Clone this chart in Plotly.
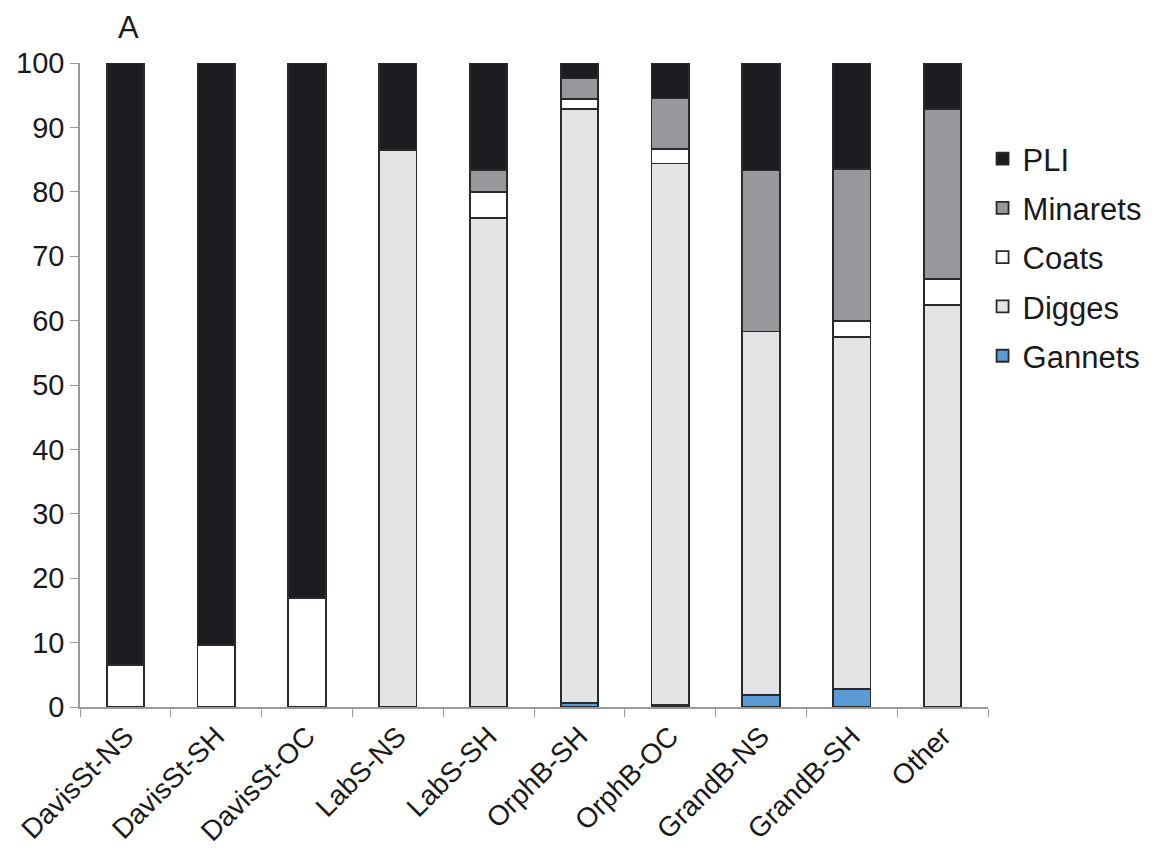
import plotly.graph_objects as go

categories = ["DavisSt-NS", "DavisSt-SH", "DavisSt-OC", "LabS-NS", "LabS-SH",
              "OrphB-SH", "OrphB-OC", "GrandB-NS", "GrandB-SH", "Other"]
gannets = [None, None, None, None, None, 0.6, 0.3, 1.9, 2.8, None]
digges = [None, None, None, 86.5, 75.9, 92.2, 84.1, 56.4, 54.6, 62.4]
coats = [6.5, 9.6, 16.9, None, 4.1, 1.6, 2.2, None, 2.5, 4.0]
minarets = [None, None, None, None, 3.4, 3.2, 7.9, 25.0, 23.7, 26.5]
pli = [93.5, 90.4, 83.1, 13.5, 16.6, 2.4, 5.5, 16.7, 16.4, 7.1]

series = [
    ("Gannets", gannets, "#5b9bd5"),
    ("Digges", digges, "#e3e4e6"),
    ("Coats", coats, "#ffffff"),
    ("Minarets", minarets, "#98979b"),
    ("PLI", pli, "#1c1d20"),
]

fig = go.Figure()
n = len(series)
for i, (name, vals, color) in enumerate(series):
    fig.add_trace(go.Bar(
        x=categories, y=vals, name=name, width=0.41, legendgroup=name,
        legendrank=(n - i) * 10,
        marker=dict(color=color, line=dict(color="#2a2a2a", width=1.8)),
    ))

font_family = "Liberation Sans, Arial, sans-serif"
fig.update_layout(
    width=1155, height=844,
    barmode="stack",
    plot_bgcolor="white", paper_bgcolor="white",
    margin=dict(l=72, r=175, t=55, b=145, autoexpand=False),
    font=dict(family=font_family, size=28, color="#1a1a1a"),
    showlegend=True,
    legend=dict(traceorder="grouped", x=0.994, y=0.893,
                xanchor="left", yanchor="top",
                font=dict(size=31), itemwidth=30, tracegroupgap=6,
                bgcolor="rgba(0,0,0,0)"),
)
fig.add_annotation(text="A", x=0.053, y=1.055, xref="paper", yref="paper",
                   xanchor="center", yanchor="middle",
                   showarrow=False, font=dict(size=31, color="#1a1a1a"))
fig.update_yaxes(range=[0, 100], dtick=10, showgrid=False, showline=True,
                 linecolor="#999999", linewidth=1.5, ticks="outside", ticklen=8,
                 tickcolor="#999999", tickfont=dict(size=29), zeroline=False,
                 automargin=False)
fig.update_xaxes(showgrid=False, showline=True, linecolor="#999999", linewidth=1.5,
                 ticks="outside", ticklen=8, tickcolor="#999999", tickson="boundaries",
                 tickangle=-45, tickfont=dict(size=28), range=[-0.5, 9.5],
                 automargin=False)
fig.write_html("out.html")
